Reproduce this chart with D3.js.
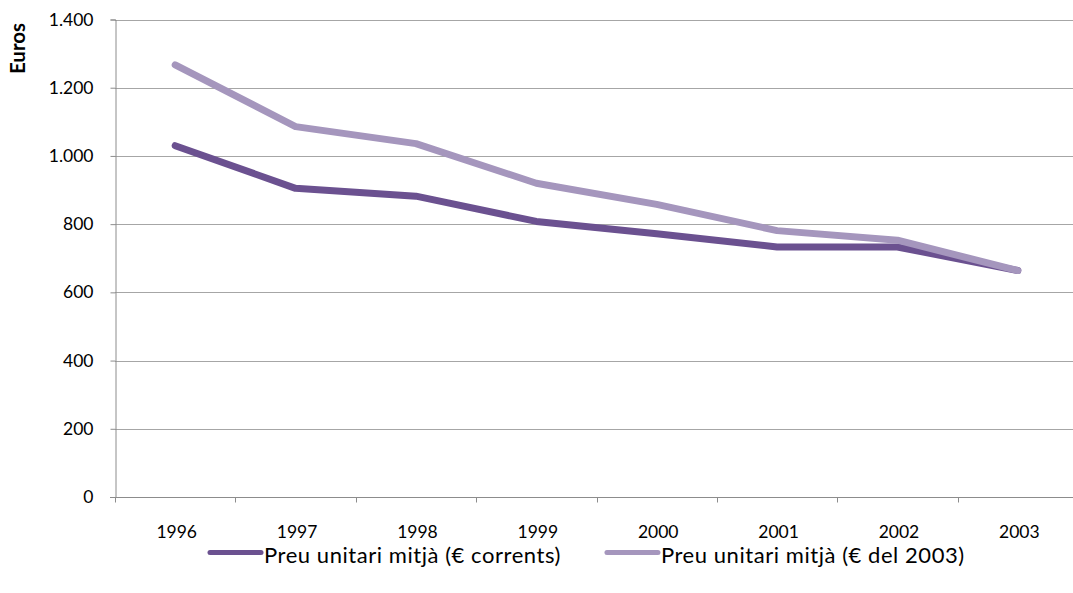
<!DOCTYPE html>
<html>
<head>
<meta charset="utf-8">
<script src="https://cdn.jsdelivr.net/npm/d3@7"></script>
<style>
  html, body { margin: 0; padding: 0; background: #fff; }
  svg { display: block; font-family: Lato, "Open Sans", sans-serif; }
</style>
</head>
<body>
<svg id="chart" width="1073" height="593"></svg>
<script>
// Average unit price, 1996–2003
const years = ["1996", "1997", "1998", "1999", "2000", "2001", "2002", "2003"];
const currentEuros = [1030, 905, 882, 808, 772, 733, 733, 664];
const constantEuros = [1267, 1086, 1036, 920, 858, 781, 753, 664];
const yTicks = [0, 200, 400, 600, 800, 1000, 1200, 1400];
const seriesNames = ["Preu unitari mitjà (€ corrents)", "Preu unitari mitjà (€ del 2003)"];
const seriesColors = ["#6b5190", "#a596bd"];

(function () {
  const svg = d3.select("#chart");
  const plotLeft = 115, plotRight = 1078, plotTop = 19.5, plotBottom = 497;

  const x = d3.scaleBand().domain(years).range([plotLeft, plotRight]);
  const y = d3.scaleLinear().domain([0, 1400]).range([plotBottom, plotTop]);
  const fmt = v => d3.format(",")(v).replace(/,/g, ".");

  // horizontal gridlines
  svg.append("g").selectAll("line")
    .data(yTicks.filter(d => d > 0))
    .join("line")
    .attr("x1", plotLeft).attr("x2", plotRight)
    .attr("y1", d => Math.round(y(d)) + 0.5).attr("y2", d => Math.round(y(d)) + 0.5)
    .attr("stroke", "#a6a6a6").attr("stroke-width", 1);

  // y axis
  const yAxis = svg.append("g")
    .attr("transform", `translate(${plotLeft + 0.5},0)`)
    .call(d3.axisLeft(y).tickValues(yTicks).tickFormat(fmt).tickSize(5).tickPadding(17));
  yAxis.select(".domain").attr("stroke", "#8c8c8c");
  yAxis.selectAll(".tick line").attr("stroke", "#8c8c8c");
  yAxis.selectAll(".tick text")
    .style("font-size", "17.5px").style("font-family", "Lato, sans-serif")
    .attr("fill", "#000");

  // x axis with ticks at band boundaries
  const xg = svg.append("g").attr("transform", `translate(0,${Math.round(plotBottom) + 0.5})`);
  xg.append("line").attr("x1", plotLeft - 5).attr("x2", plotRight).attr("stroke", "#8c8c8c");
  xg.selectAll("line.tk")
    .data(years)
    .join("line").attr("class", "tk")
    .attr("x1", d => Math.round(x(d)) + 0.5).attr("x2", d => Math.round(x(d)) + 0.5)
    .attr("y1", 0).attr("y2", 5).attr("stroke", "#8c8c8c");
  xg.selectAll("text")
    .data(years)
    .join("text")
    .attr("x", d => x(d) + x.bandwidth() / 2 + 1.5)
    .attr("y", 40.5)
    .attr("text-anchor", "middle")
    .style("font-size", "17.5px")
    .text(d => d);

  // y axis title
  svg.append("text")
    .attr("transform", "translate(25,48.5) rotate(-90)")
    .attr("text-anchor", "middle")
    .style("font-size", "20.5px").style("font-weight", "bold")
    .text("Euros");

  // series lines
  const line = d3.line()
    .x((d, i) => x(years[i]) + x.bandwidth() / 2)
    .y(d => y(d));

  [currentEuros, constantEuros].forEach((vals, i) => {
    svg.append("path")
      .datum(vals)
      .attr("d", line)
      .attr("fill", "none")
      .attr("stroke", seriesColors[i])
      .attr("stroke-width", 7)
      .attr("stroke-linecap", "round")
      .attr("stroke-linejoin", "round");
  });

  // legend: swatch + label, items laid out left to right
  const lg = svg.append("g");
  let cursor = 210;
  seriesNames.forEach((name, i) => {
    lg.append("line")
      .attr("x1", cursor).attr("x2", cursor + 51)
      .attr("y1", 552.5).attr("y2", 552.5)
      .attr("stroke", seriesColors[i]).attr("stroke-width", 5)
      .attr("stroke-linecap", "round");
    const t = lg.append("text")
      .attr("x", cursor + 54).attr("y", 562.5)
      .style("font-size", "22px")
      .style("letter-spacing", "0.55px")
      .text(name);
    cursor += 54 + t.node().getComputedTextLength() + 46;
  });
})();
</script>
</body>
</html>
